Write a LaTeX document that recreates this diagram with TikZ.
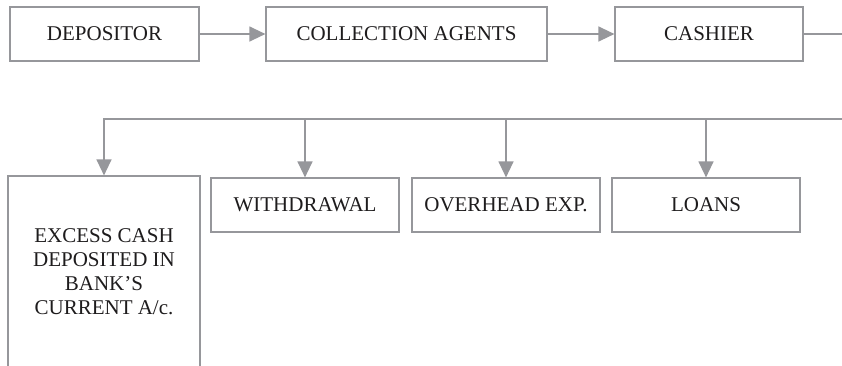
\documentclass[tikz,border=0pt]{standalone}
\usepackage{fontspec}
\setmainfont{Liberation Serif}
\usetikzlibrary{arrows.meta}
\definecolor{linegray}{RGB}{150,151,155}
\definecolor{txt}{RGB}{30,28,29}
\begin{document}
\begin{tikzpicture}[x=1pt,y=1pt,
  box/.style={draw=linegray,line width=1.2pt,minimum height=54pt,inner sep=0pt,
    text=txt,font=\fontsize{21}{24}\selectfont},
  conn/.style={draw=linegray,line width=1.3pt},
  arr/.style={conn,-{Triangle[length=16pt,width=15pt]}}]
\clip (0,0) rectangle (842,-365);
% top row
\node[box,minimum width=189pt] (dep) at (104.5,-34) {DEPOSITOR};
\node[box,minimum width=281pt] (col) at (406.5,-34) {COLLECTION AGENTS};
\node[box,minimum width=188pt] (cas) at (709,-34) {CASHIER};
\coordinate (casout) at (850,-34);
\draw[arr] (dep.east) -- (col.west);
\draw[arr] (col.east) -- (cas.west);
\draw[conn] (cas.east) -- (casout);
% bottom row
\node[box,minimum width=192pt,minimum height=192pt,align=center] (exc) at (104,-272)
  {EXCESS CASH\\DEPOSITED IN\\BANK’S\\CURRENT A/c.};
\node[box,minimum width=188pt] (wd) at (305,-205) {WITHDRAWAL};
\node[box,minimum width=188pt] (oh) at (506,-205) {OVERHEAD EXP.};
\node[box,minimum width=188pt] (ln) at (706,-205) {LOANS};
\coordinate (busL) at (104,-119);
\coordinate (busR) at (850,-119);
\draw[arr] (busR) -- (busL) -- (exc.north);
\draw[arr] (wd.north |- busL) -- (wd.north);
\draw[arr] (oh.north |- busL) -- (oh.north);
\draw[arr] (ln.north |- busL) -- (ln.north);
\end{tikzpicture}
\end{document}
